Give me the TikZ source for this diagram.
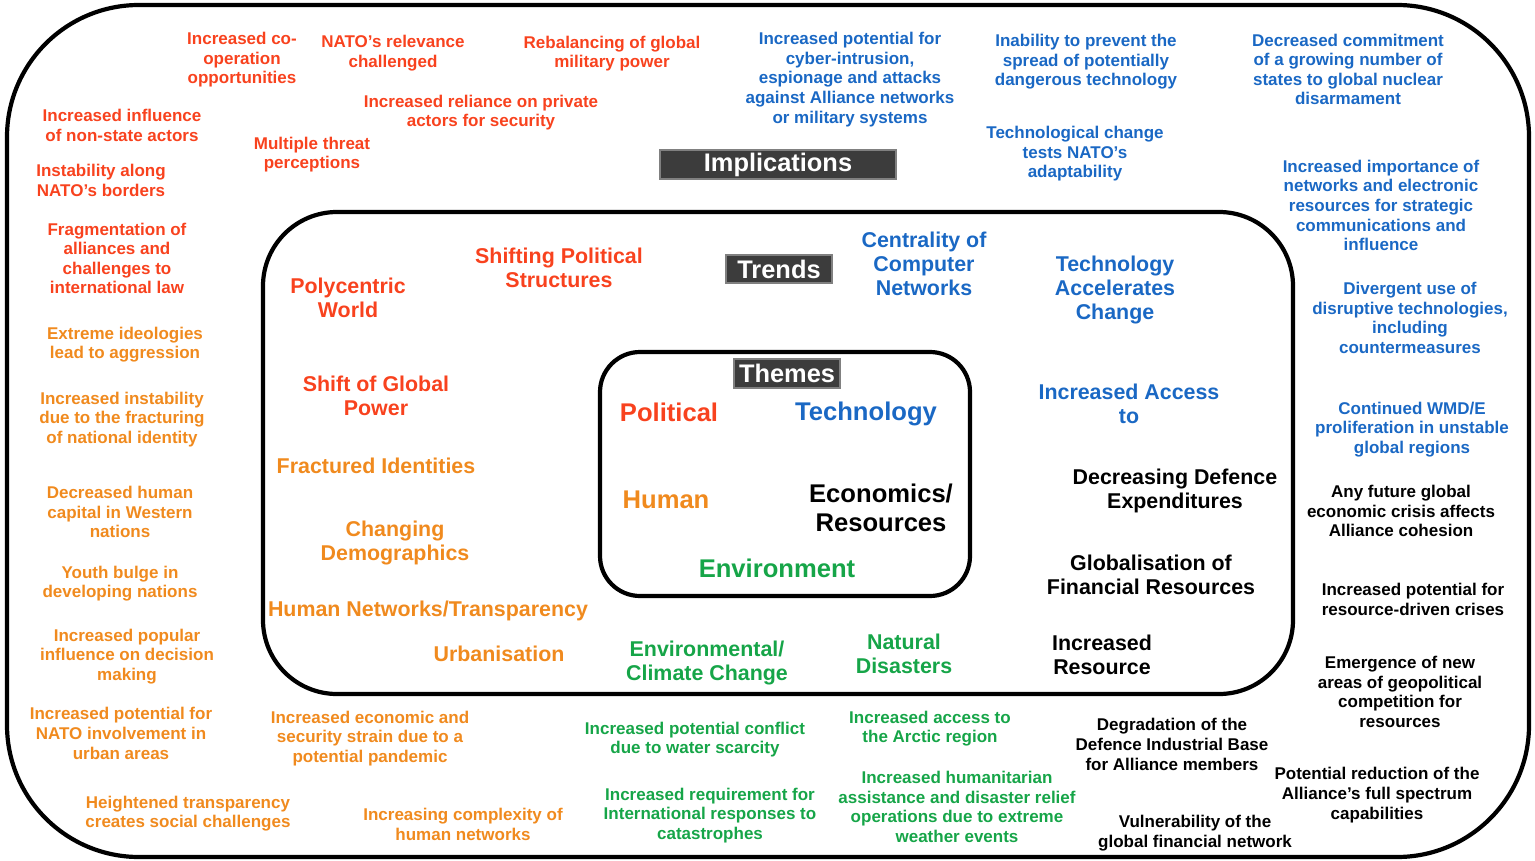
\documentclass[tikz,border=0pt]{standalone}
\usepackage{fontspec}
\setmainfont{Liberation Sans}
\usepackage{tikz}
\definecolor{polred}{RGB}{248,66,30}
\definecolor{humorange}{RGB}{240,138,30}
\definecolor{techblue}{RGB}{26,104,196}
\definecolor{envgreen}{RGB}{22,165,72}
\definecolor{hdrgray}{RGB}{60,60,60}
\tikzset{
         imp/.style={font=\fontsize{8.5}{9.8}\selectfont\bfseries,align=center,inner sep=0pt,yshift=-1pt},
         trd/.style={font=\fontsize{10.7}{12.1}\selectfont\bfseries,align=center,inner sep=0pt,yshift=-1pt},
         thm/.style={font=\fontsize{12.8}{14.6}\selectfont\bfseries,align=center,inner sep=0pt,yshift=-1pt},
         hdr/.style={fill=hdrgray,draw=gray,line width=.6pt,text=white,inner sep=0pt,
                     font=\fontsize{12.7}{14}\selectfont\bfseries},
         frame/.style={line width=2.1pt},
         pol/.style={text=polred},
         hum/.style={text=humorange},
         tech/.style={text=techblue},
         env/.style={text=envgreen},
         eco/.style={text=black}
        }
\begin{document}
\begin{tikzpicture}[x=.5pt,y=-.5pt]
\useasboundingbox(0,0)rectangle(1535,861);
%frames
\draw[frame,rounded corners=66pt](7,5)rectangle(1529,857); %implications
\draw[frame,rounded corners=37pt](263,212)rectangle(1293,694); %trends
\draw[frame,rounded corners=20pt](600,352)rectangle(970,596); %themes
%headers
\node[hdr,minimum width=118pt,minimum height=14.5pt](implications)at(778,164.5){Implications};
\node[hdr,minimum width=53pt,minimum height=14pt](trends)at(779,269){Trends};
\node[hdr,minimum width=53pt,minimum height=14.5pt](themes)at(787,373.5){Themes};
%themes
\node[thm,pol](thpol)at(669,410){Political};
\node[thm,tech](thtech)at(866,412){Technology};
\node[thm,hum](thhum)at(666,498){Human};
\node[thm,eco](theco)at(881,505.5){Economics/\\Resources};
\node[thm,env](thenv)at(777,566){Environment};
%trends
\node[trd,pol](polycentric)at(348,296){Polycentric\\World};
\node[trd,pol](shifting)at(559,266){Shifting Political\\Structures};
\node[trd,pol](shiftpower)at(376,394){Shift of Global\\Power};
\node[trd,hum](fractured)at(376,464){Fractured Identities};
\node[trd,hum](demographics)at(395,541){Changing\\Demographics};
\node[trd,hum](hnetworks)at(428,609){Human Networks/Transparency};
\node[trd,hum](urbanisation)at(499,652){Urbanisation};
\node[trd,env](climate)at(707,661){Environmental/\\Climate Change};
\node[trd,env](disasters)at(904,652){Natural\\Disasters};
\node[trd,eco](resource)at(1102,653){Increased\\Resource};
\node[trd,eco](globalisation)at(1151,573){Globalisation of\\Financial Resources};
\node[trd,eco](defence)at(1175,489){Decreasing Defence\\Expenditures};
\node[trd,tech](access)at(1129,402){Increased Access\\to};
\node[trd,tech](accelerates)at(1115,288){Technology\\Accelerates\\Change};
\node[trd,tech](centrality)at(924,262){Centrality of\\Computer\\Networks};
%implications, political
\node[imp,pol](coop)at(242,58){Increased co-\\operation\\opportunities};
\node[imp,pol](relevance)at(393,51){NATO's relevance\\challenged};
\node[imp,pol](rebalancing)at(612,51.5){Rebalancing of global\\military power};
\node[imp,pol](reliance)at(481,110.5){Increased reliance on private\\actors for security};
\node[imp,pol](nonstate)at(122,123.5){Increased influence\\of non-state actors};
\node[imp,pol](threat)at(312,152.5){Multiple threat\\perceptions};
\node[imp,pol](borders)at(101,178.5){Instability along\\NATO's borders};
\node[imp,pol](fragmentation)at(117,256.5){Fragmentation of\\alliances and\\challenges to\\international law};
%implications, human
\node[imp,hum](ideologies)at(125,342.5){Extreme ideologies\\lead to aggression};
\node[imp,hum](instability)at(122,417.5){Increased instability\\due to the fracturing\\of national identity};
\node[imp,hum](capital)at(120,510){Decreased human\\capital in Western\\nations};
\node[imp,hum](youth)at(120,581.5){Youth bulge in\\developing nations};
\node[imp,hum](popular)at(127,654.5){Increased popular\\influence on decision\\making};
\node[imp,hum](urban)at(121,731.5){Increased potential for\\NATO involvement in\\urban areas};
\node[imp,hum](pandemic)at(370,736.5){Increased economic and\\security strain due to a\\potential pandemic};
\node[imp,hum](transparency)at(188,811.5){Heightened transparency\\creates social challenges};
\node[imp,hum](complexity)at(463,822.5){Increasing complexity of\\human networks};
%implications, environment
\node[imp,env](water)at(695,737.5){Increased potential conflict\\due to water scarcity};
\node[imp,env](catastrophes)at(710,813.5){Increased requirement for\\International responses to\\catastrophes};
\node[imp,env](arctic)at(930,726.5){Increased access to\\the Arctic region};
\node[imp,env](humanitarian)at(957,805){Increased humanitarian\\assistance and disaster relief\\operations due to extreme\\weather events};
%implications, economics
\node[imp,eco](degradation)at(1172,742.5){Degradation of the\\Defence Industrial Base\\for Alliance members};
\node[imp,eco](vulnerability)at(1195,831){Vulnerability of the\\global financial network};
\node[imp,eco](reduction)at(1377,793){Potential reduction of the\\Alliance's full spectrum\\capabilities};
\node[imp,eco](geopolitical)at(1400,690){Emergence of new\\areas of geopolitical\\competition for\\resources};
\node[imp,eco](crises)at(1413,597.5){Increased potential for\\resource-driven crises};
\node[imp,eco](cohesion)at(1401,509){Any future global\\economic crisis affects\\Alliance cohesion};
%implications, technology
\node[imp,tech](cyber)at(850,77.5){Increased potential for\\cyber-intrusion,\\espionage and attacks\\against Alliance networks\\or military systems};
\node[imp,tech](spread)at(1086,60){Inability to prevent the\\spread of potentially\\dangerous technology};
\node[imp,tech](nuclear)at(1348,67.5){Decreased commitment\\of a growing number of\\states to global nuclear\\disarmament};
\node[imp,tech](adaptability)at(1075,152){Technological change\\tests NATO's\\adaptability};
\node[imp,tech](stratcom)at(1381,203.5){Increased importance of\\networks and electronic\\resources for strategic\\communications and\\influence};
\node[imp,tech](disruptive)at(1410,316){Divergent use of\\disruptive technologies,\\including\\countermeasures};
\node[imp,tech](wmd)at(1412,427.5){Continued WMD/E\\proliferation in unstable\\global regions};
\end{tikzpicture}
\end{document}
